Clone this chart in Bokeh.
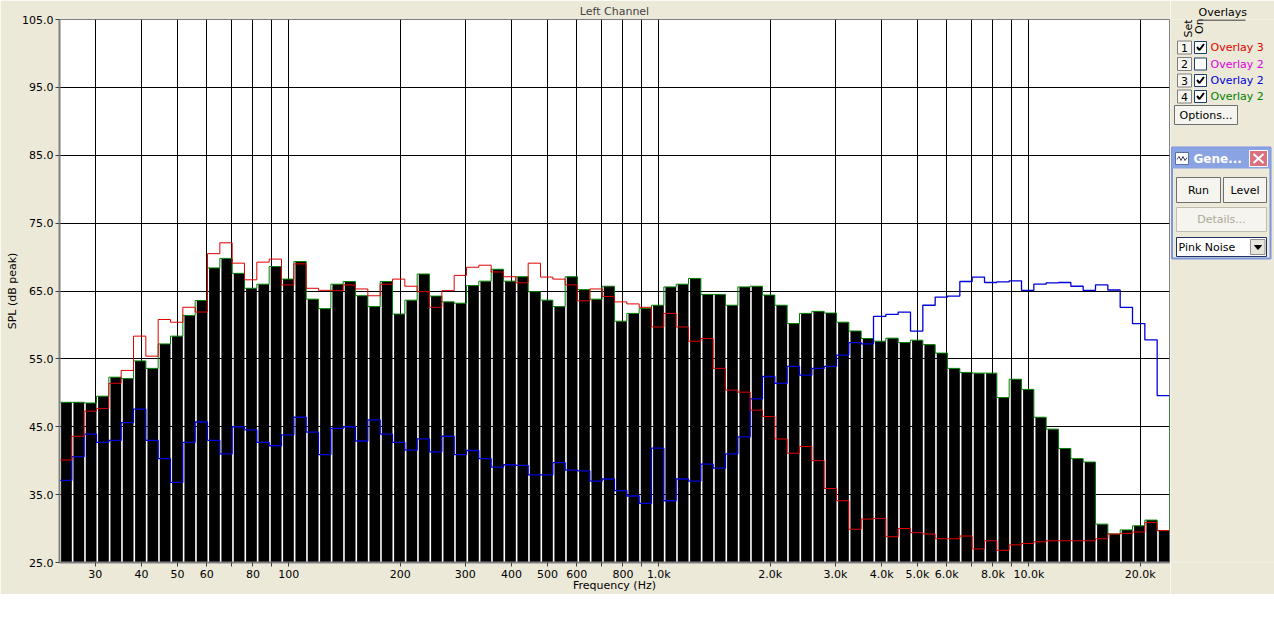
import math
from bokeh.plotting import figure
from bokeh.models import FixedTicker, PrintfTickFormatter, Range1d, ColumnDataSource, Label
from bokeh.layouts import row
from bokeh.core.properties import value
from bokeh.embed import file_html
from bokeh.resources import INLINE

# ---------------- data ----------------
F_LO, F_HI = 24.0, 24000.0
BANDS_PER_DECADE = 30

spl = [48.6, 48.6, 48.5, 49.5, 52.3, 52.1, 54.7, 53.6, 57.2, 58.35,
       61.4, 63.6, 68.4, 69.8, 67.6, 65.4, 66.0, 68.6, 66.75, 69.35,
       63.8, 62.4, 66.0, 66.4, 64.3, 62.7, 66.4, 61.6, 63.65, 67.5,
       64.25, 63.4, 63.2, 65.8, 66.45, 68.2, 66.45, 67.1, 64.9, 63.65,
       62.7, 67.1, 65.2, 63.8, 65.7, 60.55, 61.7, 62.45, 62.9, 65.6,
       66.0, 66.85, 64.5, 64.5, 62.9, 65.6, 65.7, 64.4, 62.9, 60.2,
       61.7, 62.0, 61.75, 60.4, 59.1, 58.0, 57.6, 58.05, 57.4, 57.75,
       57.1, 55.85, 53.6, 53.0, 52.9, 52.9, 49.3, 52.0, 50.5, 46.4,
       44.65, 41.8, 40.3, 39.8, 30.65, 29.2, 29.8, 30.4, 31.25, 29.7]

overlay3_red = [40.1, 43.6, 47.3, 47.7, 51.4, 53.3, 58.35, 55.4, 60.8, 60.4,
                62.6, 61.9, 70.5, 72.1, 69.1, 66.65, 69.25, 69.7, 65.9, 69.0,
                65.4, 65.1, 65.05, 65.9, 65.3, 64.3, 66.0, 66.75, 65.7, 64.9,
                62.6, 65.05, 67.3, 68.5, 68.8, 67.8, 67.1, 66.2, 69.1, 67.05,
                66.75, 65.9, 63.55, 65.3, 64.2, 63.4, 63.1, 62.6, 59.7, 61.7,
                59.7, 57.6, 58.0, 53.6, 50.4, 50.1, 47.45, 46.5, 43.2, 41.1,
                42.1, 40.0, 35.9, 34.1, 29.9, 31.4, 31.5, 28.8, 30.0, 29.4,
                29.2, 28.5, 28.5, 28.9, 27.0, 28.2, 26.8, 27.6, 27.8, 28.05,
                28.2, 28.2, 28.2, 28.2, 28.5, 29.2, 29.3, 29.5, 30.9, 29.7]

overlay2_blue = [37.1, 40.6, 43.9, 42.7, 43.0, 45.6, 47.6, 43.0, 40.3, 36.8,
                 42.7, 45.7, 43.0, 41.0, 45.0, 44.55, 42.7, 42.2, 43.8, 46.4,
                 44.2, 40.9, 44.75, 45.0, 42.9, 46.0, 43.9, 42.7, 41.55, 43.2,
                 41.3, 43.6, 40.9, 41.5, 40.3, 39.05, 39.4, 39.3, 37.9, 37.9,
                 39.7, 38.6, 38.5, 37.0, 37.3, 35.6, 34.8, 33.7, 41.85, 34.1,
                 37.3, 37.0, 39.5, 38.9, 41.0, 43.5, 49.1, 52.4, 51.4, 53.9,
                 52.6, 53.6, 53.9, 55.55, 57.4, 57.2, 61.25, 61.55, 61.9, 59.1,
                 62.9, 64.1, 64.25, 66.4, 67.05, 66.25, 66.35, 66.5, 65.1, 66.0,
                 66.2, 66.25, 65.7, 65.1, 65.9, 65.15, 62.6, 60.2, 57.8, 49.6]

green_end = 49.5

x_ticks = [30, 40, 50, 60, 70, 80, 90, 100, 200, 300, 400, 500, 600, 700, 800, 900,
           1000, 2000, 3000, 4000, 5000, 6000, 7000, 8000, 9000, 10000, 20000]
x_tick_labels = ["30", "40", "50", "60", "", "80", "", "100", "200", "300", "400",
                 "500", "600", "", "800", "", "1.0k", "2.0k", "3.0k", "4.0k", "5.0k",
                 "6.0k", "", "8.0k", "", "10.0k", "20.0k"]
y_ticks = [25, 35, 45, 55, 65, 75, 85, 95, 105]
Y_LO, Y_HI = 25, 105

# ---------------- styles ----------------
BG = "#ECE9D8"
FONT = "DejaVu Sans"
GAP = 0.13  # fraction of a band left blank between bars
H = 594
TOP, BOTTOM, LEFT = 19, 32, 59
FRAME_W = 1110

n = len(spl)
edges = [F_LO * 10 ** (k / BANDS_PER_DECADE) for k in range(n + 1)]
lefts = [edges[k] * 10 ** (GAP / BANDS_PER_DECADE) for k in range(n)]
rights = edges[1:]

p = figure(width=LEFT + FRAME_W + 1, height=H, x_axis_type="log",
           x_range=Range1d(F_LO, F_HI), y_range=Range1d(Y_LO, Y_HI),
           toolbar_location=None, output_backend="svg",
           min_border_left=LEFT, min_border_right=1, min_border_top=TOP, min_border_bottom=BOTTOM,
           background_fill_color="white", border_fill_color=BG,
           outline_line_color="#808080", outline_line_width=1)

p.title.text = "Left Channel"
p.title.align = "center"
p.title.text_font = FONT
p.title.text_font_size = "11px"
p.title.text_font_style = "normal"
p.title.standoff = 3
p.title.offset = 0

src = ColumnDataSource(dict(left=lefts, right=rights, top=spl, bottom=[Y_LO] * n))
p.quad(left="left", right="right", top="top", bottom="bottom", source=src,
       fill_color="black", line_color=None)

p.step(x=edges, y=spl + [green_end], mode="after", line_color="#008000", line_width=1)
p.step(x=edges, y=overlay2_blue + [overlay2_blue[-1]], mode="after", line_color="#0000D8", line_width=1.3)
p.step(x=edges, y=overlay3_red + [overlay3_red[-1]], mode="after", line_color="#E00000", line_width=1)

xt = FixedTicker(ticks=x_ticks)
p.xaxis.ticker = xt
p.xgrid.ticker = xt
p.xaxis.major_label_overrides = {t: l for t, l in zip(x_ticks, x_tick_labels)}
yt = FixedTicker(ticks=y_ticks)
p.yaxis.ticker = yt
p.ygrid.ticker = yt
p.yaxis.formatter = PrintfTickFormatter(format="%.1f")

p.grid.grid_line_color = "black"
p.grid.grid_line_width = 1
for ax in (p.xaxis, p.yaxis):
    ax.axis_line_color = "#808080"
    ax.axis_line_width = 2
    ax.major_tick_line_color = "#404040"
    ax.major_tick_out = 4
    ax.major_tick_in = 0
    ax.minor_tick_line_color = None
    ax.major_label_text_font = FONT
    ax.major_label_text_font_size = "11px"
    ax.major_label_text_color = "black"
    ax.axis_label_text_font = FONT
    ax.axis_label_text_font_size = "11px"
    ax.axis_label_text_font_style = "normal"
    ax.axis_label_text_color = "black"
p.xaxis.major_label_standoff = 1
p.xaxis.axis_label_standoff = -5
p.yaxis.major_label_standoff = 2
p.yaxis.axis_label_standoff = 0
p.xaxis.axis_label = "Frequency (Hz)"
p.yaxis.axis_label = "SPL (dB peak)"

# ---------------- right-hand panel (UI decoration, pixel coordinates) ----------------
q = figure(width=104, height=H, x_range=Range1d(1170, 1274), y_range=Range1d(H - BOTTOM, TOP),
           toolbar_location=None, output_backend="svg",
           min_border_left=0, min_border_right=0, min_border_top=TOP, min_border_bottom=BOTTOM,
           x_axis_location=None, y_axis_location=None, outline_line_color=None,
           background_fill_color=BG, border_fill_color=BG)
q.grid.visible = False
q.title.text = "Overlays"
q.title.align = "left"
q.title.offset = 28
q.title.standoff = 1
q.title.text_font = FONT
q.title.text_font_size = "11px"
q.title.text_font_style = "normal"
q.title.text_color = "black"
tf = value(FONT)

q.segment(x0=[1198], y0=[19.5], x1=[1245], y1=[19.5], line_color="black", line_width=1)
q.add_layout(Label(x=1187.5, y=37, text="Set", angle=math.pi / 2, text_font=FONT,
                   text_font_size="11px", text_baseline="alphabetic", text_color="black"))
q.add_layout(Label(x=1198.5, y=33.5, text="On", angle=math.pi / 2, text_font=FONT,
                   text_font_size="11px", text_baseline="alphabetic", text_color="black"))

row_y = [47, 63.5, 80, 96]
row_lbl = ["Overlay 3", "Overlay 2", "Overlay 2", "Overlay 2"]
row_col = ["#E00000", "#E000E0", "#0000D8", "#008000"]
row_chk = [True, False, True, True]
q.quad(left=[1177] * 4, right=[1191] * 4, top=[y - 6.5 for y in row_y], bottom=[y + 6.5 for y in row_y],
       fill_color="#F5F4EE", line_color="#808080", line_width=1)
q.text(x=[1184] * 4, y=row_y, text=["1", "2", "3", "4"], text_font=tf, text_font_size="11px",
       text_align="center", text_baseline="middle", text_color="black")
q.quad(left=[1194] * 4, right=[1206] * 4, top=[y - 6 for y in row_y], bottom=[y + 6 for y in row_y],
       fill_color="white", line_color="#1C3F6E", line_width=1)
cx, cy = [], []
for y, c in zip(row_y, row_chk):
    if c:
        cx.append([1196.5, 1199, 1203.5])
        cy.append([y - 0.5, y + 2.5, y - 3.5])
q.multi_line(xs=cx, ys=cy, line_color="black", line_width=2)
q.text(x=[1210] * 4, y=row_y, text=row_lbl, text_color=row_col, text_font=tf,
       text_font_size="11px", text_baseline="middle")

# Options button
q.quad(left=[1174], right=[1237], top=[105], bottom=[124], fill_color="#F5F4EE",
       line_color="#707070", line_width=1)
q.text(x=[1205.5], y=[114.5], text=["Options..."], text_font=tf, text_font_size="11px",
       text_align="center", text_baseline="middle", text_color="black")

# Generator mini-window
q.quad(left=[1171.5], right=[1270], top=[147], bottom=[258], fill_color=BG,
       line_color="#7A96DF", line_width=2)
q.quad(left=[1171.5], right=[1270], top=[147], bottom=[168], fill_color="#8AA3E3", line_color=None)
q.quad(left=[1175], right=[1188], top=[152], bottom=[164], fill_color="white", line_color="#5A6FA8")
q.line(x=[1176.5, 1178.5, 1180.5, 1182.5, 1184.5, 1186.5], y=[159, 156, 160, 156, 160, 157],
       line_color="#404060", line_width=1)
q.text(x=[1193], y=[158], text=["Gene..."], text_font=tf, text_font_size="12px",
       text_font_style="bold", text_baseline="middle", text_color="white")
q.quad(left=[1249], right=[1267], top=[150], bottom=[166], fill_color="#D9727E", line_color="white")
q.segment(x0=[1253, 1253], y0=[153.5, 162.5], x1=[1263, 1263], y1=[162.5, 153.5],
          line_color="white", line_width=2)
q.quad(left=[1176, 1223], right=[1220, 1266], top=[177, 177], bottom=[202, 202],
       fill_color="#F5F4EE", line_color="#707070")
q.text(x=[1198, 1244.5], y=[189.5, 189.5], text=["Run", "Level"], text_font=tf,
       text_font_size="11px", text_align="center", text_baseline="middle", text_color="black")
q.quad(left=[1176], right=[1266], top=[207], bottom=[231], fill_color="#F5F4EE", line_color="#C0BDB0")
q.text(x=[1221], y=[219], text=["Details..."], text_font=tf, text_font_size="11px",
       text_align="center", text_baseline="middle", text_color="#ACA899")
q.quad(left=[1176], right=[1266], top=[237], bottom=[256], fill_color="white", line_color="#203060")
q.text(x=[1178], y=[247], text=["Pink Noise"], text_font=tf, text_font_size="11px",
       text_baseline="middle", text_color="black")
q.quad(left=[1250], right=[1264.5], top=[239], bottom=[254], fill_color="#E8E6DC", line_color="#909090")
q.patch(x=[1254, 1261, 1257.5], y=[245, 245, 249], fill_color="black", line_color="black")

layout = row(p, q)
open("out.html", "w").write(file_html(layout, INLINE))
